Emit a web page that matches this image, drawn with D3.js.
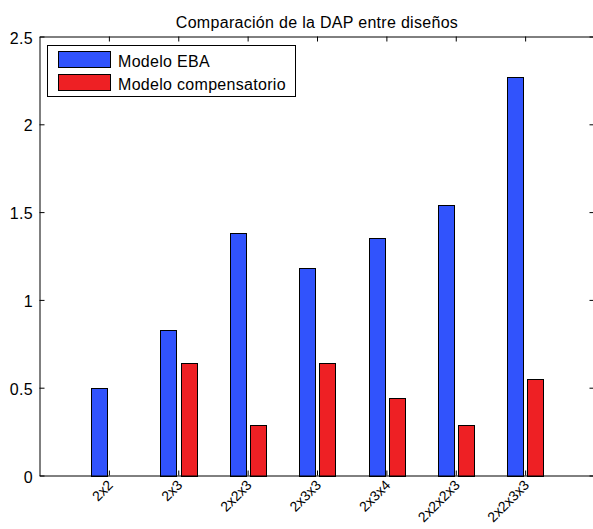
<!doctype html>
<html>
<head>
    <meta charset="utf-8"/>
    <style>
        html, body { margin: 0; padding: 0; background: #fff; }
        svg { display: block; font-family: "Liberation Sans", Arial, sans-serif; }
    </style>
    <script src="https://d3js.org/d3.v7.min.js"></script>
</head>
<body>
<svg id="chart" width="593" height="529"></svg>
<script>
    // Data
    var categories = ["2x2", "2x3", "2x2x3", "2x3x3", "2x3x4", "2x2x2x3", "2x2x3x3"];
    var ebaValues = [0.50, 0.83, 1.38, 1.18, 1.35, 1.54, 2.27];
    var compValues = [0.00, 0.64, 0.29, 0.64, 0.44, 0.29, 0.55];
    var seriesNames = ["Modelo EBA", "Modelo compensatorio"];
    var seriesColors = ["#3153fc", "#ee2024"];
    var yTicks = [0, 0.5, 1, 1.5, 2, 2.5];
    var title = "Comparación de la DAP entre diseños";

    var svg = d3.select("#chart");
    var plotL = 39.5, plotR = 594.5, plotT = 36.5, plotB = 475.5;
    var fs = 16, ls = 0.3;

    var x = d3.scaleLinear().domain([0, categories.length + 1]).range([plotL, plotR]);
    var y = d3.scaleLinear().domain([0, 2.5]).range([plotB, plotT]);

    var barW = 0.225;       // in category units
    var offsets = [-0.145, 0.145];
    var series = [ebaValues, compValues];

    // bars
    series.forEach(function(vals, s) {
        svg.append("g").selectAll("rect")
            .data(vals).enter()
            .append("rect")
            .attr("x", function(d, i) { return Math.round(x(i + 1 + offsets[s] - barW / 2)) + 0.5; })
            .attr("width", function() { return Math.round(x(barW) - x(0)); })
            .attr("y", function(d) { return Math.round(y(d)) + 0.5; })
            .attr("height", function(d) { return Math.round(y(0)) - Math.round(y(d)); })
            .attr("fill", seriesColors[s])
            .attr("stroke", "#000")
            .attr("stroke-width", 1);
    });

    // axes (matlab style: ticks inward on all four sides)
    var tickLen = 5;
    var tickIdx = d3.range(1, categories.length + 1);

    svg.append("g").attr("transform", "translate(0," + plotB + ")")
        .call(d3.axisBottom(x).tickValues(tickIdx).tickSizeInner(-tickLen).tickSizeOuter(0).tickFormat(""));
    svg.append("g").attr("transform", "translate(0," + plotT + ")")
        .call(d3.axisTop(x).tickValues(tickIdx).tickSizeInner(-tickLen).tickSizeOuter(0).tickFormat(""));
    svg.append("g").attr("transform", "translate(" + plotL + ",0)")
        .call(d3.axisLeft(y).tickValues(yTicks).tickSizeInner(-tickLen).tickSizeOuter(0).tickFormat(""));
    svg.append("g").attr("transform", "translate(" + plotR + ",0)")
        .call(d3.axisRight(y).tickValues(yTicks).tickSizeInner(-tickLen).tickSizeOuter(0).tickFormat(""));

    svg.selectAll(".domain").attr("stroke", "#000");
    svg.selectAll(".tick line").attr("stroke", "#000");

    // y tick labels
    svg.append("g").selectAll("text")
        .data(yTicks).enter()
        .append("text")
        .attr("x", 33)
        .attr("y", function(d) { return y(d) + 7; })
        .attr("text-anchor", "end")
        .attr("font-size", fs)
        .attr("letter-spacing", ls)
        .text(function(d) { return d; });

    // x tick labels, rotated
    svg.append("g").selectAll("text")
        .data(categories).enter()
        .append("text")
        .attr("transform", function(d, i) {
            return "translate(" + (x(i + 1) + 5) + "," + 486 + ") rotate(-45)";
        })
        .attr("text-anchor", "end")
        .attr("font-size", 14)
        .text(function(d) { return d; });

    // title
    svg.append("text")
        .attr("x", 317)
        .attr("y", 28)
        .attr("text-anchor", "middle")
        .attr("font-size", fs)
        .attr("letter-spacing", ls)
        .text(title);

    // legend
    var lg = svg.append("g");
    lg.append("rect")
        .attr("x", 47.5).attr("y", 45.5)
        .attr("width", 248).attr("height", 51)
        .attr("fill", "#fff").attr("stroke", "#000");
    seriesNames.forEach(function(name, s) {
        lg.append("rect")
            .attr("x", 58.5).attr("y", 51.5 + s * 23)
            .attr("width", 52).attr("height", 16)
            .attr("fill", seriesColors[s]).attr("stroke", "#000");
        lg.append("text")
            .attr("x", 118).attr("y", 67 + s * 23)
            .attr("font-size", fs)
            .attr("letter-spacing", ls)
            .text(name);
    });
</script>
</body>
</html>
